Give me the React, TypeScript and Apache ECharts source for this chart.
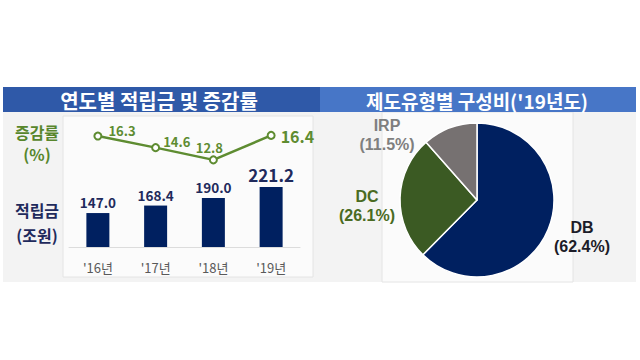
import React, { useEffect, useRef } from "react";
import * as echarts from "echarts";

const years = ["'16년", "'17년", "'18년", "'19년"];
const reserves = [147.0, 168.4, 190.0, 221.2];
const growth = [16.3, 14.6, 12.8, 16.4];
const pieNames = ["DB", "DC", "IRP"];
const pieShares = [62.4, 26.1, 11.5];

const FONT = "'Noto Sans CJK KR', 'Noto Sans', sans-serif";
const LATIN = "'Liberation Sans', 'Noto Sans', sans-serif";
const NAVY = "#002060";
const GREEN = "#5e8c31";

export default function App() {
  const ref = useRef<HTMLDivElement>(null);
  useEffect(() => {
    if (!ref.current) return;
    const chart = echarts.init(ref.current, null, { renderer: "svg" });

    const lineLabelCfg = [
      { position: "right", offset: [1, -6], fontSize: 13 },
      { position: "right", offset: [-2, -6], fontSize: 13 },
      { position: "top", offset: [-4, 4], fontSize: 13 },
      { position: "right", offset: [0, 1], fontSize: 16 },
    ];
    const barLabelSize = [13.5, 13.5, 13.5, 17];
    const pieColors = [NAVY, "#3b5a23", "#767171"];
    const pieLabelColors = ["#1c1c28", "#4a6b22", "#7f7f7f"];
    const pieLabelPos = [
      [582, 236],
      [367, 205],
      [387, 134],
    ];

    const pieTexts: any[] = [];
    pieNames.forEach((n, i) => {
      const base = {
        type: "text",
        x: pieLabelPos[i][0],
        z: 10,
      };
      const st = {
        fill: pieLabelColors[i],
        font: `bold 16px ${LATIN}`,
        align: "center",
        verticalAlign: "middle",
      };
      pieTexts.push({ ...base, y: pieLabelPos[i][1] - 9, style: { ...st, text: n } });
      pieTexts.push({ ...base, y: pieLabelPos[i][1] + 10, style: { ...st, text: `(${pieShares[i].toFixed(1)}%)` } });
    });

    chart.setOption({
      animation: false,
      textStyle: { fontFamily: FONT },
      graphic: [
        { type: "rect", z: -10, shape: { x: 3, y: 112, width: 633, height: 170 }, style: { fill: "#f3f3f3" } },
        { type: "rect", z: -9, shape: { x: 63, y: 116, width: 250, height: 161 }, style: { fill: "#fbfbfb", stroke: "#e4e4e4", lineWidth: 1 } },
        { type: "rect", z: -9, shape: { x: 382, y: 112, width: 191, height: 170 }, style: { fill: "#fbfbfb", stroke: "#e4e4e4", lineWidth: 1 } },
        { type: "rect", z: -8, shape: { x: 3, y: 87, width: 317, height: 25 }, style: { fill: "#2f59a8" } },
        { type: "rect", z: -8, shape: { x: 320, y: 87, width: 316, height: 25 }, style: { fill: "#4776c7" } },
        { type: "text", x: 159, y: 100, style: { text: "연도별 적립금 및 증감률", fill: "#fff", font: `bold 20px ${FONT}`, align: "center", verticalAlign: "middle" } },
        { type: "text", x: 477, y: 100, style: { text: "제도유형별 구성비('19년도)", fill: "#fff", font: `bold 19px ${FONT}`, align: "center", verticalAlign: "middle" } },
        { type: "text", x: 37, y: 132, style: { text: "증감률", fill: "#57862c", font: `bold 16px ${FONT}`, align: "center", verticalAlign: "middle" } },
        { type: "text", x: 37, y: 154, style: { text: "(%)", fill: "#57862c", font: `bold 16px ${FONT}`, align: "center", verticalAlign: "middle" } },
        { type: "text", x: 37, y: 210, style: { text: "적립금", fill: "#1f2a5c", font: `bold 16px ${FONT}`, align: "center", verticalAlign: "middle" } },
        { type: "text", x: 37, y: 235, style: { text: "(조원)", fill: "#1f2a5c", font: `bold 16px ${FONT}`, align: "center", verticalAlign: "middle" } },
        ...pieTexts,
      ],
      grid: { left: 69, width: 231, top: 124.5, height: 122.5 },
      xAxis: {
        type: "category",
        data: years,
        axisLine: { show: true, lineStyle: { color: "#dcdcdc" } },
        axisTick: { show: false },
        axisLabel: { color: "#595959", fontSize: 13, margin: 14, fontFamily: FONT },
      },
      yAxis: [
        { type: "value", min: 50, max: 400, show: false, splitLine: { show: false } },
        { type: "value", min: 0, max: 18, show: false, splitLine: { show: false } },
      ],
      series: [
        {
          type: "bar",
          yAxisIndex: 0,
          barWidth: 23,
          itemStyle: { color: NAVY },
          data: reserves.map((v, i) => ({
            value: v,
            label: {
              show: true,
              position: "top",
              distance: 4,
              formatter: v.toFixed(1),
              color: "#1f2a5c",
              fontWeight: "bold",
              fontSize: barLabelSize[i],
              fontFamily: FONT,
            },
          })),
        },
        {
          type: "line",
          yAxisIndex: 1,
          symbol: "circle",
          symbolSize: 7,
          lineStyle: { color: GREEN, width: 2.5 },
          itemStyle: { color: "#ffffff", borderColor: GREEN, borderWidth: 2 },
          data: growth.map((v, i) => ({
            value: v,
            label: {
              show: true,
              position: lineLabelCfg[i].position,
              offset: lineLabelCfg[i].offset,
              distance: 5,
              formatter: v.toFixed(1),
              color: GREEN,
              fontWeight: "bold",
              fontSize: lineLabelCfg[i].fontSize,
              fontFamily: FONT,
            },
          })),
        },
        {
          type: "pie",
          center: [477, 200],
          radius: 77,
          startAngle: 90,
          clockwise: true,
          itemStyle: { borderColor: "#ffffff", borderWidth: 1.5 },
          label: { show: false },
          labelLine: { show: false },
          data: pieNames.map((n, i) => ({
            name: n,
            value: pieShares[i],
            itemStyle: { color: pieColors[i] },
          })),
        },
      ],
    });
    return () => chart.dispose();
  }, []);
  return (
    <div
      ref={ref}
      style={{ position: "absolute", left: 0, top: 0, width: 640, height: 360, background: "#ffffff" }}
    />
  );
}
